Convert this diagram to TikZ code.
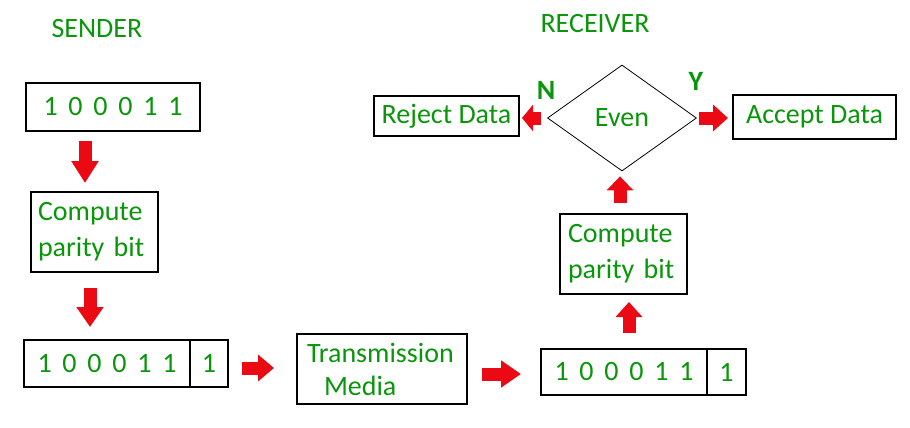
\documentclass[tikz,border=0pt]{standalone}
\usepackage{fontspec}
\setmainfont{Carlito}
\newfontfamily\bitsfont{Carlito}[WordSpace=1.7]
\usetikzlibrary{arrows.meta,shapes.geometric,positioning}
\definecolor{txtgreen}{RGB}{10,150,10}
\definecolor{arrred}{RGB}{235,10,20}

\begin{document}
\begin{tikzpicture}[x=1pt,y=-1pt,
  every node/.style={font=\fontsize{28}{36}\selectfont, text=txtgreen},
  box/.style={draw=black, line width=1.2pt, inner sep=0pt, outer sep=0pt},
  fat/.style={draw=arrred, line width=13pt, -{Triangle[width=26pt,length=#1]}},
  fat/.default=17pt]
\useasboundingbox (0,0) rectangle (910,428);

\node (sender) at (97,29) {SENDER};
\node (receiver) at (595,24) {RECEIVER};

% sender
\node[box, minimum width=174pt, minimum height=48pt] (in1) at (113,107) {\bitsfont 1 0 0 0 1 1};
\node[box, text width=113pt, inner xsep=7pt, align=left, minimum height=80pt] (cp1) at (94.5,232) {Compute\\parity bit};
\node[box, minimum width=166pt, minimum height=47pt] (bits3) at (107,363.5) {\bitsfont 1 0 0 0 1 1};
\node[box, minimum width=38pt, minimum height=47pt, right=0pt of bits3] (par3) {1};

% channel
\node[box, text width=150pt, inner xsep=10pt, align=left, minimum height=70pt,
  font=\fontsize{28}{33}\selectfont] (tm) at (382,369) {Transmission\\\hspace*{17pt}Media};

% receiver
\node[box, minimum width=166pt, minimum height=46pt] (bits5) at (624,372) {\bitsfont 1 0 0 0 1 1};
\node[box, minimum width=39pt, minimum height=46pt, right=0pt of bits5] (par5) {1};
\node[box, text width=111pt, inner xsep=8pt, align=left, minimum height=80pt] (cp2) at (623.5,254) {Compute\\parity bit};
\node[draw=black, diamond, line width=0.8pt, inner sep=0pt, minimum width=149pt, minimum height=106pt] (even) at (622,118) {Even};
\node[box, minimum width=145pt, minimum height=40pt] (reject) at (446.5,116) {Reject Data};
\node[box, minimum width=163pt, minimum height=44pt] (accept) at (814.5,117) {Accept Data};
\node[font=\fontsize{28}{30}\selectfont\bfseries] (nlab) at (546,90) {N};
\node[font=\fontsize{28}{30}\selectfont\bfseries] (ylab) at (696,81) {Y};

% arrows
\coordinate (a1) at (85,0);
\coordinate (a2) at (90,0);
\coordinate (a3) at (0,368);
\coordinate (a4) at (0,374);
\coordinate (a5) at (629,0);
\coordinate (a6) at (620,0);
\draw[fat=22pt, shorten <=10pt, shorten >=9pt] (in1.south -| a1) -- (cp1.north -| a1);
\draw[fat=20pt, shorten <=16pt, shorten >=13pt] (cp1.south -| a2) -- (bits3.north -| a2);
\draw[fat=16pt, shorten <=14pt, shorten >=23pt] (par3.east |- a3) -- (tm.west |- a3);
\draw[fat=20pt, shorten <=15pt, shorten >=20pt] (tm.east |- a4) -- (bits5.west |- a4);
\draw[fat=15pt, shorten <=16pt, shorten >=8pt] (bits5.north -| a5) -- (cp2.south -| a5);
\draw[fat=14pt, shorten <=11pt, shorten >=5pt] (cp2.north -| a6) -- (even.south -| a6);
\draw[fat=11pt, shorten <=6pt, shorten >=3pt] (even.west) -- (reject.east |- even.west);
\draw[fat=15pt, shorten <=2pt, shorten >=5pt] (even.east) -- (accept.west |- even.east);
\end{tikzpicture}
\end{document}
